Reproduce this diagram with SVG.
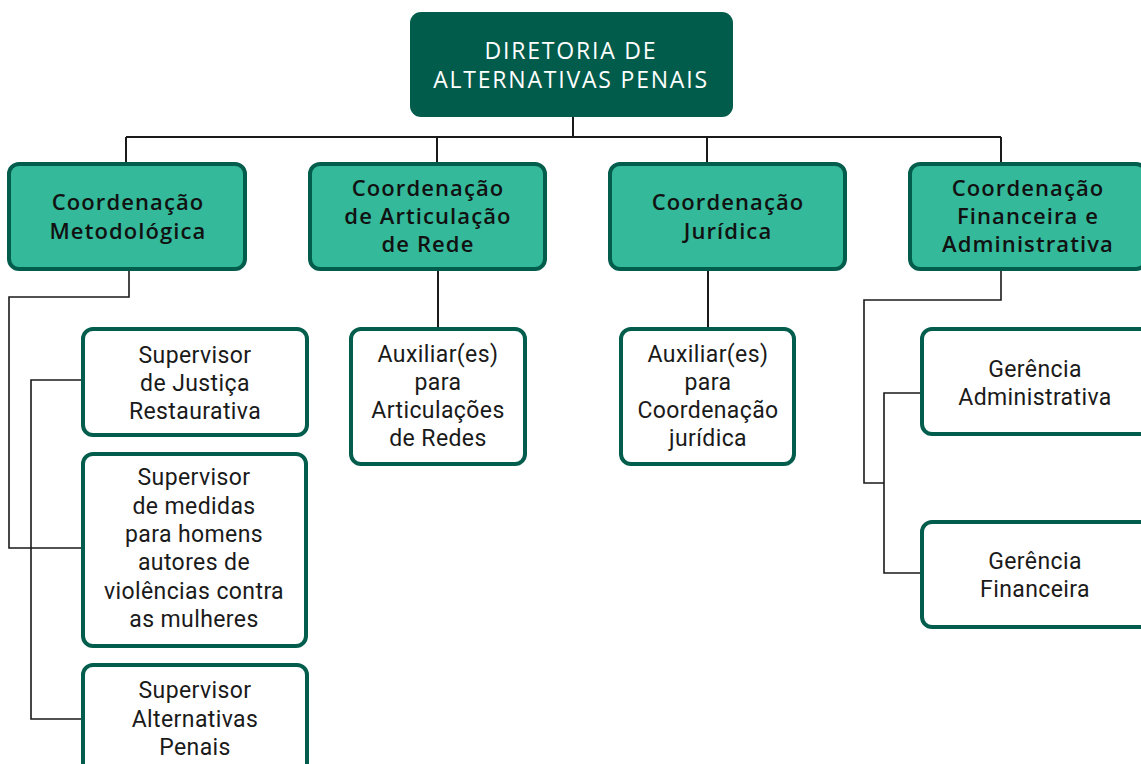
<svg xmlns="http://www.w3.org/2000/svg" width="1141" height="764" viewBox="0 0 1141 764">
<style>
.top{fill:#025c4c;}
.l2{fill:#34b99a;stroke:#035d4c;stroke-width:4;}
.l3{fill:#ffffff;stroke:#035d4c;stroke-width:4;}
.tt{font-family:"Open Sans","Liberation Sans",sans-serif;font-size:23px;fill:#ffffff;text-anchor:middle;letter-spacing:1.8px;}
.t2{font-family:"Open Sans","Liberation Sans",sans-serif;font-size:22px;font-weight:600;fill:#111;text-anchor:middle;letter-spacing:1.1px;}
.t3{font-family:Roboto,"Liberation Sans",sans-serif;font-size:23px;fill:#1a1a1a;text-anchor:middle;letter-spacing:0.4px;}
.c{fill:none;stroke:#1a1a1a;stroke-width:2;}
.c2{fill:none;stroke:#1a1a1a;stroke-width:1.6;}
</style>
<g id="connectors">
<path class="c" d="M573 117V137M126 137H1001M126 137V164M437 137V164M707 137V164M1001 137V164"/>
<path class="c2" d="M129 270V297H9V548H83"/>
<path class="c2" d="M83 380H31V719H83"/>
<path class="c" d="M438 270V328M708 270V328"/>
<path class="c2" d="M1001 270V300H864V483H884"/>
<path class="c2" d="M921 393H884V573H921"/>
</g>
<g id="diretoria">
<rect class="top" x="410" y="12" width="323" height="105" rx="11"/>
<text class="tt" x="571" y="59">DIRETORIA DE</text>
<text class="tt" x="571" y="88">ALTERNATIVAS PENAIS</text>
</g>
<g id="coord-metodologica">
<rect class="l2" x="9" y="164" width="236" height="105" rx="10"/>
<text class="t2" x="128" y="210">Coordenação</text>
<text class="t2" x="128" y="239">Metodológica</text>
</g>
<g id="coord-articulacao">
<rect class="l2" x="310" y="164" width="235" height="105" rx="10"/>
<text class="t2" x="428" y="196">Coordenação</text>
<text class="t2" x="428" y="224">de Articulação</text>
<text class="t2" x="428" y="252">de Rede</text>
</g>
<g id="coord-juridica">
<rect class="l2" x="610" y="164" width="235" height="105" rx="10"/>
<text class="t2" x="728" y="210">Coordenação</text>
<text class="t2" x="728" y="239">Jurídica</text>
</g>
<g id="coord-financeira">
<rect class="l2" x="910" y="164" width="236" height="105" rx="10"/>
<text class="t2" x="1028" y="196">Coordenação</text>
<text class="t2" x="1028" y="224">Financeira e</text>
<text class="t2" x="1028" y="252">Administrativa</text>
</g>
<g id="sup-justica">
<rect class="l3" x="83" y="329" width="224" height="106" rx="10"/>
<text class="t3" x="195" y="363">Supervisor</text>
<text class="t3" x="195" y="391">de Justiça</text>
<text class="t3" x="195" y="419">Restaurativa</text>
</g>
<g id="sup-medidas">
<rect class="l3" x="83" y="454" width="223" height="192" rx="10"/>
<text class="t3" x="194" y="485">Supervisor</text>
<text class="t3" x="194" y="514">de medidas</text>
<text class="t3" x="194" y="542">para homens</text>
<text class="t3" x="194" y="570">autores de</text>
<text class="t3" x="194" y="599">violências contra</text>
<text class="t3" x="194" y="627">as mulheres</text>
</g>
<g id="sup-alternativas">
<rect class="l3" x="83" y="665" width="224" height="120" rx="10"/>
<text class="t3" x="195" y="698">Supervisor</text>
<text class="t3" x="195" y="727">Alternativas</text>
<text class="t3" x="195" y="755">Penais</text>
</g>
<g id="aux-redes">
<rect class="l3" x="351" y="329" width="174" height="135" rx="10"/>
<text class="t3" x="438" y="362">Auxiliar(es)</text>
<text class="t3" x="438" y="390">para</text>
<text class="t3" x="438" y="418">Articulações</text>
<text class="t3" x="438" y="446">de Redes</text>
</g>
<g id="aux-juridica">
<rect class="l3" x="621" y="329" width="173" height="135" rx="10"/>
<text class="t3" x="708" y="362">Auxiliar(es)</text>
<text class="t3" x="708" y="390">para</text>
<text class="t3" x="708" y="418">Coordenação</text>
<text class="t3" x="708" y="446">jurídica</text>
</g>
<g id="ger-administrativa">
<rect class="l3" x="922" y="329" width="230" height="105" rx="10"/>
<text class="t3" x="1035" y="377">Gerência</text>
<text class="t3" x="1035" y="405">Administrativa</text>
</g>
<g id="ger-financeira">
<rect class="l3" x="922" y="522" width="230" height="105" rx="10"/>
<text class="t3" x="1035" y="569">Gerência</text>
<text class="t3" x="1035" y="597">Financeira</text>
</g>
</svg>
